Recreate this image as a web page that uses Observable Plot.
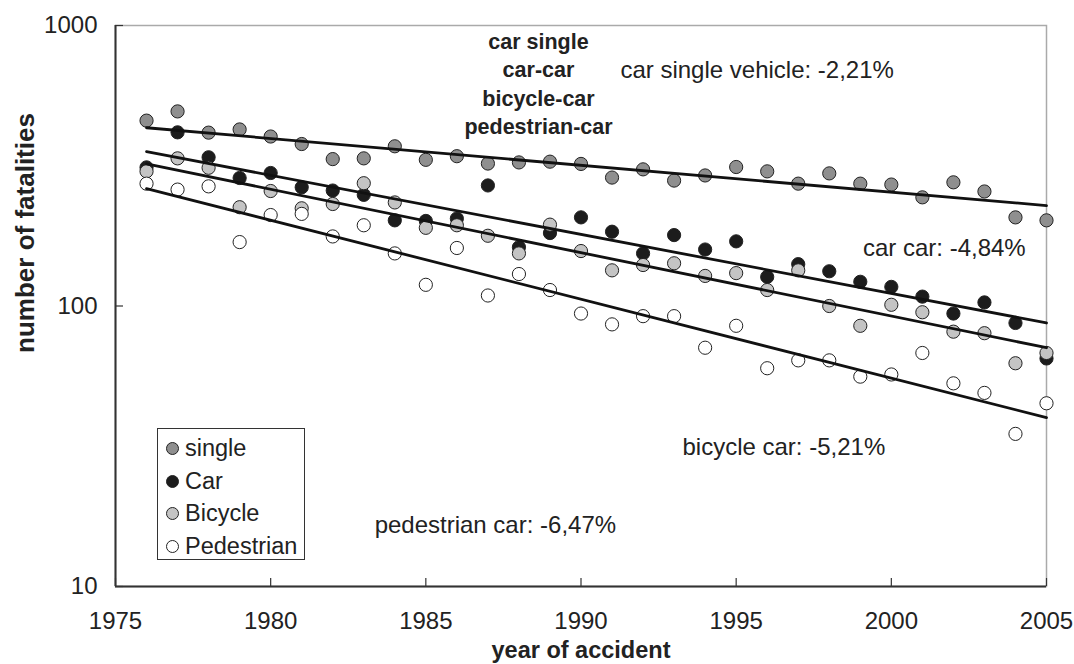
<!DOCTYPE html>
<html>
<head>
<meta charset="utf-8">
<script src="https://cdn.jsdelivr.net/npm/d3@7"></script>
<script src="https://cdn.jsdelivr.net/npm/@observablehq/plot@0.6"></script>
<style>
  body { margin: 0; background: #fff; font-family: "Liberation Sans", Arial, sans-serif; }
  #wrap { position: relative; width: 1074px; height: 664px; }
  .legend { position: absolute; left: 157px; top: 428px; width: 146px; height: 130px;
            border: 1px solid #333; background: #fff; color: #222; font-size: 23.5px; }
  .legend .row { position: absolute; left: 0; height: 26px; line-height: 26px; white-space: nowrap; }
  .legend .sw { position: absolute; left: 8px; top: 7px; width: 11px; height: 11px; border-radius: 50%;
                border: 1px solid #222; }
  .legend .lb { position: absolute; left: 27px; top: 0; }
</style>
</head>
<body>
<div id="wrap"></div>
<script>
// ---- data ----
const years = [1976, 1977, 1978, 1979, 1980, 1981, 1982, 1983, 1984, 1985,
               1986, 1987, 1988, 1989, 1990, 1991, 1992, 1993, 1994, 1995,
               1996, 1997, 1998, 1999, 2000, 2001, 2002, 2003, 2004, 2005];
const seriesNames = ["single", "Car", "Bicycle", "Pedestrian"];
const fillColors = ["#8f8f8f", "#1c1c1c", "#c4c4c4", "#ffffff"];

const single = [458, 494, 415, 426, 402, 378, 334, 336, 371, 332,
                342, 322, 325, 327, 321, 287, 307, 280, 292, 313,
                302, 273, 297, 273, 271, 244, 276, 256, 207, 202];
const car = [312, 416, 339, 286, 298, 265, 258, 249, 202, 201,
             205, 269, 162, 182, 207, 184, 154, 179, 159, 170,
             127, 141, 133, 122, 117, 108, 94, 103, 87, 65];
const bicycle = [302, 336, 311, 225, 257, 223, 231, 274, 234, 190,
                 194, 178, 154, 195, 157, 134, 140, 142, 128, 131,
                 114, 134, 100, 85, 101, 95, 81, 80, 62.5, 68];
const pedestrian = [273, 260, 267, 169, 211, 213, 177, 194, 154, 119,
                    161, 109, 130, 114, 94, 86, 92, 92, 71, 85,
                    60, 64, 64, 56, 57, 68, 53, 49, 35, 45];

// trend lines (exponential fits) read at 1976 and 2005
const trendYears = [1976, 2005];
const trendStart = [432, 355, 321, 262];
const trendEnd = [228, 87, 71, 40];

const xTicks = [1975, 1980, 1985, 1990, 1995, 2000, 2005];
const yTicks = [10, 100, 1000];

// ---- tables for the library ----
const seriesValues = [single, car, bicycle, pedestrian];
const rows = [];
seriesNames.forEach((s, i) => years.forEach((yr, j) => rows.push({series: s, year: yr, value: seriesValues[i][j]})));
const trendRows = [];
seriesNames.forEach((s, i) => {
  trendRows.push({series: s, year: trendYears[0], value: trendStart[i]});
  trendRows.push({series: s, year: trendYears[1], value: trendEnd[i]});
});

const W = 1074, H = 664, mL = 115, mR = 28, mT = 25, mB = 78;
const plotW = W - mL - mR, plotH = H - mT - mB;

const chart = Plot.plot({
  width: W, height: H,
  marginLeft: mL, marginRight: mR, marginTop: mT, marginBottom: mB,
  style: {fontFamily: "'Liberation Sans', Arial, sans-serif", fontSize: "24px", color: "#222", background: "#fff"},
  x: {domain: [1975, 2005], ticks: xTicks, tickFormat: d => String(d), tickSize: 0, tickPadding: 25, label: null},
  y: {type: "log", domain: [10, 1000], ticks: yTicks, tickFormat: d => String(d), tickSize: 0, tickPadding: 18, label: null},
  color: {domain: seriesNames, range: fillColors},
  marks: [
    Plot.frame({stroke: "#aaa", strokeWidth: 1.5}),
    Plot.ruleX([1975], {stroke: "#333", strokeWidth: 2}),
    Plot.ruleY([10], {stroke: "#333", strokeWidth: 2}),
    Plot.tickX(xTicks, {x: d => d, insetTop: plotH - 8, stroke: "#333", strokeWidth: 1.2}),
    Plot.tickY(yTicks, {y: d => d, insetRight: plotW - 8, stroke: "#333", strokeWidth: 1.2}),
    Plot.dot(rows, {x: "year", y: "value", fill: "series", stroke: "#222", strokeWidth: 1, r: 6.6}),
    Plot.line(trendRows, {x: "year", y: "value", z: "series", stroke: "#111", strokeWidth: 2.8}),
    Plot.text(["car single\ncar-car\nbicycle-car\npedestrian-car"],
      {x: 1988.63, y: 626, text: d => d, fontWeight: "bold", fontSize: 21.5, lineHeight: 1.32, lineAnchor: "middle", fill: "#222"}),
    Plot.text(["car single vehicle: -2,21%"], {x: 1991.27, y: 691, text: d => d, textAnchor: "start", fill: "#222"}),
    Plot.text(["car car: -4,84%"], {x: 2004.33, y: 160, text: d => d, textAnchor: "end", fill: "#222"}),
    Plot.text(["bicycle car: -5,21%"], {x: 1993.27, y: 31.3, text: d => d, textAnchor: "start", fill: "#222"}),
    Plot.text(["pedestrian car: -6,47%"], {x: 1983.35, y: 16.5, text: d => d, textAnchor: "start", fill: "#222"}),
    Plot.text(["year of accident"], {frameAnchor: "bottom", dy: 71, text: d => d, fontWeight: "bold", fontSize: 23.5, fill: "#222"}),
    Plot.text(["number of fatalities"], {frameAnchor: "left", textAnchor: "middle", dx: -90, dy: -73, rotate: -90, text: d => d, fontWeight: "bold", fontSize: 26, fill: "#222"})
  ]
});

const wrap = document.getElementById("wrap");
wrap.appendChild(chart);

// legend
const legend = document.createElement("div");
legend.className = "legend";
const rowCenters = [19, 52, 84, 117];
seriesNames.forEach((s, i) => {
  const r = document.createElement("div");
  r.className = "row";
  r.style.top = (rowCenters[i] - 13) + "px";
  const sw = document.createElement("span");
  sw.className = "sw";
  sw.style.background = fillColors[i];
  const lb = document.createElement("span");
  lb.className = "lb";
  lb.textContent = s;
  r.appendChild(sw); r.appendChild(lb);
  legend.appendChild(r);
});
wrap.appendChild(legend);
</script>
</body>
</html>
